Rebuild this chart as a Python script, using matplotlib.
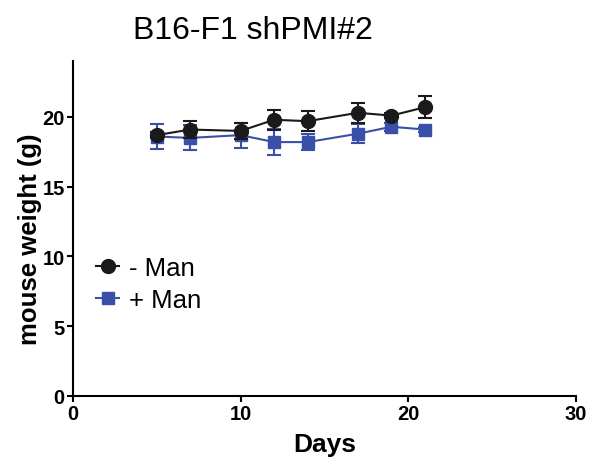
import matplotlib
matplotlib.use("Agg")
import matplotlib.pyplot as plt
from matplotlib.lines import Line2D

plt.rcParams['font.family'] = ['Liberation Sans', 'DejaVu Sans']

days = [5, 7, 10, 12, 14, 17, 19, 21]
minus_man = [18.7, 19.1, 19.0, 19.8, 19.7, 20.3, 20.1, 20.7]
minus_err = [0.2, 0.6, 0.6, 0.7, 0.7, 0.7, 0.2, 0.8]
plus_man = [18.6, 18.5, 18.7, 18.2, 18.2, 18.8, 19.3, 19.1]
plus_err = [0.9, 0.9, 0.9, 0.95, 0.6, 0.7, 0.3, 0.2]
labels = ['- Man', '+ Man']

black = '#1a1a1a'
blue = '#3a4fa8'

fig = plt.figure(figsize=(6.08, 4.64), dpi=100)
ax = fig.add_axes([0.12, 0.1444, 0.827, 0.7216])

ax.errorbar(days, plus_man, yerr=plus_err, color=blue, marker='s', markersize=9,
            linewidth=1.5, capsize=5, elinewidth=1.5, capthick=1.5, zorder=2)
ax.errorbar(days, minus_man, yerr=minus_err, color=black, marker='o', markersize=10,
            linewidth=1.5, capsize=5, elinewidth=1.5, capthick=1.5, zorder=3)

ax.set_xlim(0, 30)
ax.set_ylim(0, 24)
ax.set_xticks([0, 10, 20, 30])
ax.set_yticks([0, 5, 10, 15, 20])
for s in ['top', 'right']:
    ax.spines[s].set_visible(False)
for s in ['left', 'bottom']:
    ax.spines[s].set_linewidth(1.5)
ax.tick_params(axis='both', width=1.5, length=4, labelsize=14.5, pad=2)
for t in ax.get_xticklabels() + ax.get_yticklabels():
    t.set_fontweight('bold')

ax.set_xlabel('Days', fontsize=19, fontweight='bold', labelpad=6)
ax.set_ylabel('mouse weight (g)', fontsize=18.5, fontweight='bold')
ax.yaxis.set_label_coords(-0.062, 0.47)

fig.text(253 / 608, 1 - 31 / 464, 'B16-F1 shPMI#2', fontsize=23, ha='center', va='center')

handles = [Line2D([], [], color=black, marker='o', markersize=10, linewidth=1.5),
           Line2D([], [], color=blue, marker='s', markersize=9, linewidth=1.5)]
leg = ax.legend(handles, labels, loc='center left',
                bbox_to_anchor=(96 / 608, 1 - 285 / 464), bbox_transform=fig.transFigure,
                frameon=False, fontsize=18.5, handlelength=0.9, handletextpad=0.4,
                labelspacing=0.3, borderpad=0, borderaxespad=0)

fig.savefig('out.png', dpi=100)
